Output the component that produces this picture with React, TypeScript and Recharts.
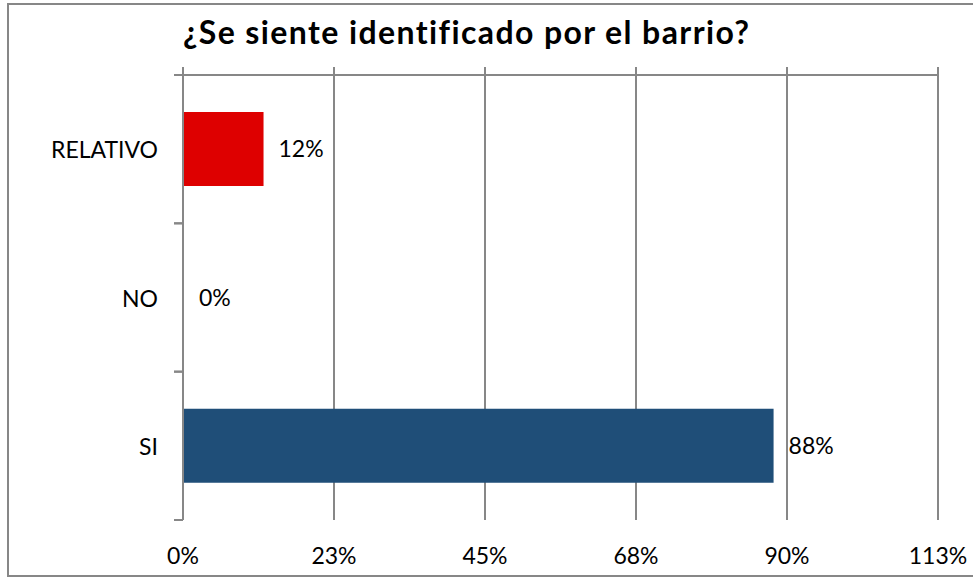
import React from 'react';
import { BarChart, Bar, XAxis, YAxis, CartesianGrid, LabelList, Cell } from 'recharts';

const categories = ['RELATIVO', 'NO', 'SI'];
const values = [0.12, 0, 0.88];
const tickValues = [0, 0.225, 0.45, 0.675, 0.9, 1.125];
const tickLabels = ['0%', '23%', '45%', '68%', '90%', '113%'];

const barColors = ['#DE0000', 'transparent', '#1F4E78'];
const gridColor = '#878787';
const font = 'Lato, "Open Sans", sans-serif';
const labelGap = 25;
const markLen = 9;

const data = categories.map((name, i) => ({ name, value: values[i] }));

const pct = (v: number) => `${Math.round(v * 100)}%`;

const NoTick = () => null;

const BottomTick = (props: any) => {
    const { x, y, index } = props;
    return (
        <text x={x} y={y + 33} textAnchor="middle" dominantBaseline="central" fontFamily={font} fontSize={23} fill="#000">
            {tickLabels[index]}
        </text>
    );
};

// category label plus the small marks at both edges of its band
const CategoryTick = (props: any) => {
    const { x, y, payload, height, visibleTicksCount } = props;
    const half = height / visibleTicksCount / 2;
    const axisX = x + labelGap;
    return (
        <g>
            <line x1={axisX - markLen} x2={axisX} y1={y - half} y2={y - half} stroke={gridColor} strokeWidth={2} />
            <line x1={axisX - markLen} x2={axisX} y1={y + half} y2={y + half} stroke={gridColor} strokeWidth={2} />
            <text x={x} y={y} textAnchor="end" dominantBaseline="central" fontFamily={font} fontSize={23} fill="#000">
                {payload.value}
            </text>
        </g>
    );
};

export default function App() {
    return (
        <div style={{ position: 'absolute', left: 0, top: 0, width: 973, height: 577, overflow: 'hidden', background: '#fff' }}>
            <div
                style={{
                    position: 'absolute',
                    left: 7,
                    top: 3,
                    width: 990,
                    height: 574,
                    boxSizing: 'border-box',
                    border: `2px solid ${gridColor}`,
                }}
            />
            <div
                style={{
                    position: 'absolute',
                    left: 183,
                    top: 12,
                    fontFamily: font,
                    fontWeight: 700,
                    fontSize: 32,
                    letterSpacing: 1.4,
                    whiteSpace: 'nowrap',
                    color: '#000',
                }}
            >
                ¿Se siente identificado por el barrio?
            </div>
            <div style={{ position: 'absolute', left: 0, top: 0 }}>
                <BarChart
                    width={973}
                    height={577}
                    data={data}
                    layout="vertical"
                    margin={{ top: 74, right: 35, bottom: 0, left: 0 }}
                    barCategoryGap="25%"
                >
                    <CartesianGrid xAxisId="bottom" yAxisId="names" horizontal={false} stroke={gridColor} strokeWidth={2} />
                    <XAxis
                        xAxisId="top"
                        orientation="top"
                        type="number"
                        domain={[0, 1.125]}
                        allowDataOverflow
                        ticks={tickValues}
                        height={1}
                        tick={NoTick}
                        tickSize={8}
                        interval={0}
                        axisLine={{ stroke: gridColor, strokeWidth: 2 }}
                        tickLine={{ stroke: gridColor, strokeWidth: 2 }}
                    />
                    <XAxis
                        xAxisId="bottom"
                        orientation="bottom"
                        type="number"
                        domain={[0, 1.125]}
                        allowDataOverflow
                        ticks={tickValues}
                        height={57}
                        axisLine={false}
                        tickLine={false}
                        tickSize={0}
                        tick={<BottomTick />}
                        interval={0}
                    />
                    <YAxis
                        yAxisId="names"
                        orientation="left"
                        type="category"
                        dataKey="name"
                        width={183}
                        axisLine={{ stroke: gridColor, strokeWidth: 2 }}
                        tickLine={false}
                        tickSize={0}
                        tickMargin={labelGap}
                        tick={<CategoryTick />}
                        interval={0}
                    />
                    <Bar xAxisId="bottom" yAxisId="names" dataKey="value" minPointSize={1} isAnimationActive={false}>
                        {data.map((d, i) => (
                            <Cell key={d.name} fill={barColors[i]} />
                        ))}
                        <LabelList
                            dataKey="value"
                            position="right"
                            offset={15}
                            formatter={(v: any) => pct(Number(v))}
                            style={{ fontFamily: font, fontSize: 23, fill: '#000' }}
                        />
                    </Bar>
                </BarChart>
            </div>
        </div>
    );
}
